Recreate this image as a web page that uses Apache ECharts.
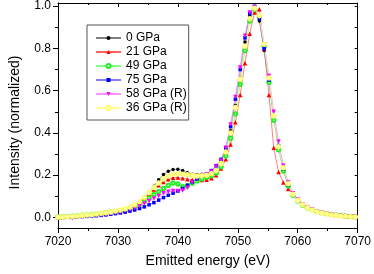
<!DOCTYPE html>
<html>
<head>
<meta charset="utf-8">
<script src="https://cdn.jsdelivr.net/npm/echarts@6/dist/echarts.min.js"></script>
<style>html,body{margin:0;padding:0;background:#fff;}#c{width:374px;height:274px;}</style>
</head>
<body>
<div id="c"></div>
<script>
// Emitted energy grid (eV)
var energy = [];
for (var k = 0; k <= 62; k++) energy.push(+(7020 + 0.8 * k).toFixed(1));

var seriesNames = ['0 GPa', '21 GPa', '49 GPa', '75 GPa', '58 GPa (R)', '36 GPa (R)'];

var gpa0 = [0.000,0.002,0.004,0.005,0.007,0.009,0.011,0.013,0.016,0.018,
            0.021,0.025,0.029,0.034,0.040,0.047,0.058,0.072,0.092,0.118,
            0.148,0.178,0.203,0.219,0.227,0.228,0.222,0.212,0.205,0.203,
            0.204,0.207,0.213,0.228,0.262,0.320,0.410,0.530,0.660,0.830,
            0.955,0.995,0.930,0.790,0.640,0.480,0.340,0.240,0.160,0.110,
            0.080,0.060,0.045,0.034,0.026,0.020,0.016,0.012,0.010,0.008,
            0.006,0.004,0.002];
var gpa21 = [0.000,0.002,0.003,0.005,0.007,0.009,0.012,0.014,0.017,0.020,
            0.023,0.027,0.031,0.036,0.042,0.050,0.060,0.074,0.092,0.112,
            0.132,0.152,0.168,0.181,0.188,0.189,0.186,0.181,0.178,0.177,
            0.177,0.178,0.186,0.200,0.232,0.275,0.345,0.450,0.580,0.730,
            0.870,0.970,0.985,0.800,0.580,0.330,0.215,0.165,0.135,0.110,
            0.085,0.065,0.050,0.038,0.029,0.022,0.017,0.013,0.010,0.008,
            0.005,0.003,0.002];
var gpa49 = [0.002,0.003,0.004,0.006,0.008,0.010,0.012,0.014,0.016,0.019,
            0.022,0.025,0.028,0.032,0.037,0.043,0.051,0.062,0.076,0.092,
            0.108,0.122,0.137,0.152,0.163,0.158,0.145,0.150,0.162,0.172,
            0.182,0.190,0.198,0.210,0.240,0.290,0.375,0.490,0.630,0.790,
            0.930,0.985,0.950,0.810,0.640,0.460,0.320,0.220,0.150,0.105,
            0.078,0.058,0.045,0.036,0.028,0.022,0.018,0.014,0.011,0.009,
            0.007,0.005,0.004];
var gpa75 = [0.000,0.000,0.001,0.002,0.003,0.004,0.005,0.006,0.008,0.010,
            0.012,0.015,0.018,0.021,0.025,0.030,0.035,0.042,0.050,0.060,
            0.070,0.082,0.094,0.105,0.115,0.125,0.137,0.152,0.168,0.182,
            0.195,0.207,0.222,0.245,0.275,0.330,0.430,0.560,0.700,0.850,
            0.965,1.000,0.940,0.800,0.650,0.480,0.340,0.230,0.155,0.110,
            0.080,0.060,0.046,0.035,0.027,0.021,0.016,0.012,0.009,0.007,
            0.005,0.004,0.003];
var gpa58r = [0.000,0.001,0.002,-0.004,0.003,0.005,0.006,0.008,0.010,0.012,
            0.015,0.018,0.021,0.025,0.030,0.036,0.044,0.054,0.066,0.078,
            0.090,0.102,0.114,0.122,0.125,0.125,0.127,0.140,0.165,0.185,
            0.196,0.205,0.218,0.240,0.270,0.330,0.440,0.570,0.710,0.860,
            0.970,0.995,0.950,0.820,0.670,0.500,0.360,0.245,0.165,0.115,
            0.084,0.062,0.048,0.037,0.029,0.022,0.017,0.013,0.010,0.008,
            0.006,0.004,0.003];
var gpa36r = [0.001,0.002,0.003,0.005,0.007,0.009,0.011,0.013,0.016,0.019,
            0.022,0.026,0.030,0.035,0.041,0.049,0.060,0.075,0.095,0.118,
            0.142,0.163,0.182,0.196,0.204,0.206,0.205,0.202,0.198,0.196,
            0.197,0.200,0.207,0.222,0.255,0.310,0.400,0.520,0.655,0.810,
            0.940,0.990,0.955,0.820,0.660,0.480,0.335,0.235,0.160,0.110,
            0.080,0.060,0.046,0.035,0.027,0.021,0.016,0.012,0.009,0.007,
            0.005,0.003,0.002];

var yMajor = [0, 0.2, 0.4, 0.6, 0.8, 1.0];
var yMinor = [0.1, 0.3, 0.5, 0.7, 0.9];
var yAll = [0, 0.1, 0.2, 0.3, 0.4, 0.5, 0.6, 0.7, 0.8, 0.9, 1.0];

var allValues = [gpa0, gpa21, gpa49, gpa75, gpa58r, gpa36r];
var markerColors = ['#000000', '#ff0000', '#22ee22', '#0000ff', '#ff00ff', '#ffff70'];
var lineColors = ['#808080', '#ff6060', '#80ff80', '#8080ff', '#ff90ff', '#ffff90'];
var symbols = ['circle', 'triangle', 'emptyCircle', 'rect', 'triangle', 'emptyCircle'];
var rotations = [0, 0, 0, 0, 180, 0];
var sizes = [3.5, 4.5, 3.5, 3.5, 4.5, 3.5];

function pairs(v) { return energy.map(function (e, i) { return [e, v[i]]; }); }

var FONT = 'Liberation Sans, Arial, sans-serif';
var series = allValues.map(function (v, i) {
  return {
    name: seriesNames[i], type: 'line', data: pairs(v),
    xAxisIndex: 0, yAxisIndex: 0,
    symbol: symbols[i], symbolSize: sizes[i], symbolRotate: rotations[i],
    showAllSymbol: true,
    lineStyle: { color: lineColors[i], width: 0.8 },
    itemStyle: { color: markerColors[i], borderColor: markerColors[i], borderWidth: symbols[i] === 'emptyCircle' ? 0.8 : 0 },
    emphasis: { disabled: true },
    animation: false
  };
});

var chart = echarts.init(document.getElementById('c'), null, { renderer: 'canvas' });
chart.setOption({
  animation: false,
  backgroundColor: '#fff',
  textStyle: { fontFamily: FONT },
  grid: { left: 52, right: 15, top: 3, bottom: 46 },
  legend: {
    data: seriesNames, orient: 'vertical', left: 87, top: 25,
    padding: [7, 2, 6, 8], itemGap: 2, itemWidth: 25, itemHeight: 5,
    borderColor: '#555', borderWidth: 1, backgroundColor: '#fff',
    textStyle: { fontSize: 12, color: '#000', fontFamily: FONT }
  },
  xAxis: [{
    type: 'value', position: 'bottom', min: 7020, max: 7070, interval: 10,
    axisLine: { onZero: false, lineStyle: { color: '#000', width: 1 } },
    axisTick: { inside: false, length: 5, lineStyle: { color: '#000' } },
    minorTick: { show: true, splitNumber: 2, length: 3, lineStyle: { color: '#000' } },
    axisLabel: { fontSize: 12, color: '#000', margin: 8, fontFamily: FONT,
      formatter: function (v) { return String(Math.round(v)); } },
    splitLine: { show: false },
    name: 'Emitted energy (eV)', nameLocation: 'middle', nameGap: 26,
    nameTextStyle: { fontSize: 14, color: '#000', fontFamily: FONT }
  }, {
    type: 'value', position: 'top', min: 7020, max: 7070, interval: 10,
    axisLine: { onZero: false, lineStyle: { color: '#000', width: 1 } },
    axisTick: { inside: true, length: 4, lineStyle: { color: '#000' } },
    minorTick: { show: true, splitNumber: 2, length: 2, lineStyle: { color: '#000' } },
    axisLabel: { show: false }, splitLine: { show: false }
  }],
  yAxis: [{
    type: 'value', position: 'left', min: -0.05, max: 1.015,
    axisLine: { onZero: false, show: true, lineStyle: { color: '#000', width: 1 } },
    axisTick: { show: true, inside: false, length: 5, customValues: yMajor, lineStyle: { color: '#000' } },
    axisLabel: { customValues: yMajor, fontSize: 12, color: '#000', margin: 7, fontFamily: FONT,
      formatter: function (v) { return v.toFixed(1); } },
    splitLine: { show: false },
    name: 'Intensity (normalized)', nameLocation: 'middle', nameGap: 36,
    nameTextStyle: { fontSize: 14, color: '#000', fontFamily: FONT, padding: [0, 14, 0, 0] }
  }, {
    type: 'value', position: 'left', min: -0.05, max: 1.015,
    axisLine: { show: false },
    axisTick: { show: true, inside: false, length: 3, customValues: yMinor, lineStyle: { color: '#000' } },
    axisLabel: { show: false }, splitLine: { show: false }
  }, {
    type: 'value', position: 'right', min: -0.05, max: 1.015,
    axisLine: { show: true, onZero: false, lineStyle: { color: '#000', width: 1 } },
    axisTick: { show: true, inside: true, length: 3, customValues: yAll, lineStyle: { color: '#000' } },
    axisLabel: { show: false }, splitLine: { show: false }
  }],
  series: series
});
</script>
</body>
</html>
